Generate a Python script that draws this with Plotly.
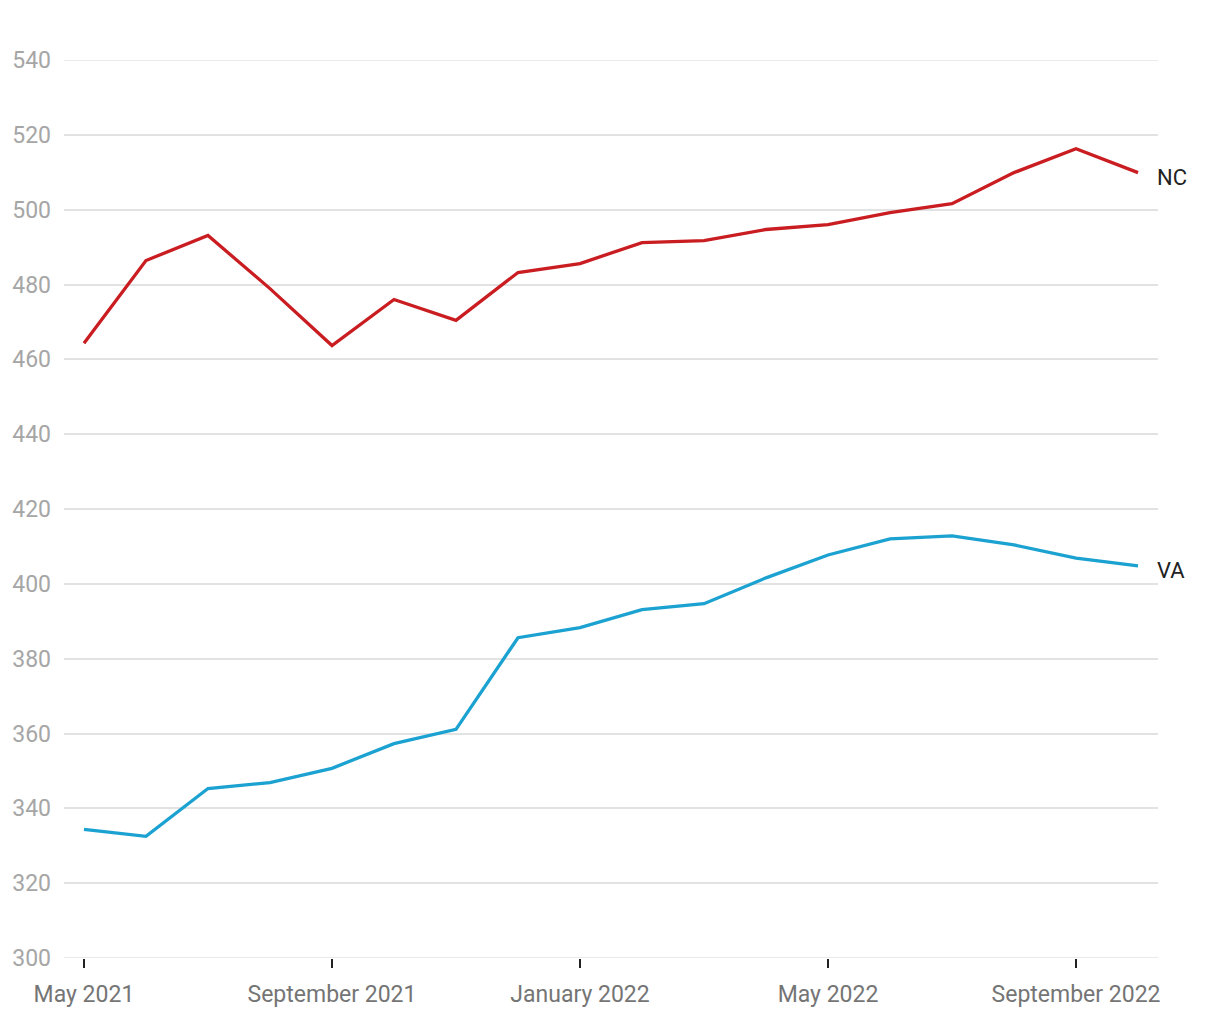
import plotly.graph_objects as go

months = ["May 2021", "Jun 2021", "Jul 2021", "Aug 2021", "Sep 2021", "Oct 2021",
          "Nov 2021", "Dec 2021", "Jan 2022", "Feb 2022", "Mar 2022", "Apr 2022",
          "May 2022", "Jun 2022", "Jul 2022", "Aug 2022", "Sep 2022", "Oct 2022"]
nc = [464.3, 486.4, 493.1, 478.9, 463.7, 476.0, 470.4, 483.2, 485.6, 491.2,
      491.7, 494.7, 496.0, 499.2, 501.6, 509.9, 516.3, 509.9]
va = [334.4, 332.5, 345.3, 346.9, 350.7, 357.3, 361.1, 385.6, 388.3, 393.1,
      394.7, 401.6, 407.7, 412.0, 412.8, 410.4, 406.9, 404.8]
tick_idx = [0, 4, 8, 12, 16]
tick_text = ["May 2021", "September 2021", "January 2022", "May 2022", "September 2022"]
y_ticks = list(range(300, 541, 20))
y_min, y_max = 300, 540

x = list(range(len(months)))
fig = go.Figure()
fig.add_trace(go.Scatter(x=x, y=nc, mode="lines", name="NC",
                         line=dict(color="#c91d21", width=3.3), customdata=months,
                         hovertemplate="%{customdata}: %{y}<extra>NC</extra>"))
fig.add_trace(go.Scatter(x=x, y=va, mode="lines", name="VA",
                         line=dict(color="#1ba2d1", width=3.3), customdata=months,
                         hovertemplate="%{customdata}: %{y}<extra>VA</extra>"))

for name, series in (("NC", nc), ("VA", va)):
    fig.add_annotation(x=x[-1], y=series[-1], text=name, showarrow=False,
                       xanchor="left", yanchor="middle", xshift=17, yshift=-5,
                       font=dict(size=22, color="#222222", family="Roboto"))

# edge gridlines (plotly omits gridlines at the range boundaries)
for yv in (y_min, y_max):
    fig.add_shape(type="line", xref="paper", x0=0, x1=1, yref="y", y0=yv, y1=yv,
                  line=dict(color="#e2e2e2", width=1.5), layer="below")

fig.update_layout(
    width=1220, height=1020,
    margin=dict(l=63, r=62, t=60, b=60),
    paper_bgcolor="white", plot_bgcolor="white",
    showlegend=False,
    font=dict(family="Roboto"),
    xaxis=dict(range=[-0.322, 17.322], tickmode="array", tickvals=tick_idx,
               ticktext=tick_text, showgrid=False, zeroline=False,
               ticks="outside", ticklen=9, tickwidth=2, tickcolor="#222222",
               ticklabelstandoff=6,
               tickfont=dict(size=23, color="#757575", family="Roboto"),
               showline=False),
    yaxis=dict(range=[y_min, y_max], tickmode="array", tickvals=y_ticks,
               showgrid=True, gridcolor="#e2e2e2", gridwidth=1.5, zeroline=False,
               ticks="", ticklabelstandoff=12,
               tickfont=dict(size=23, color="#a6a6a6", family="Roboto")),
)

fig.write_html("out.html")
